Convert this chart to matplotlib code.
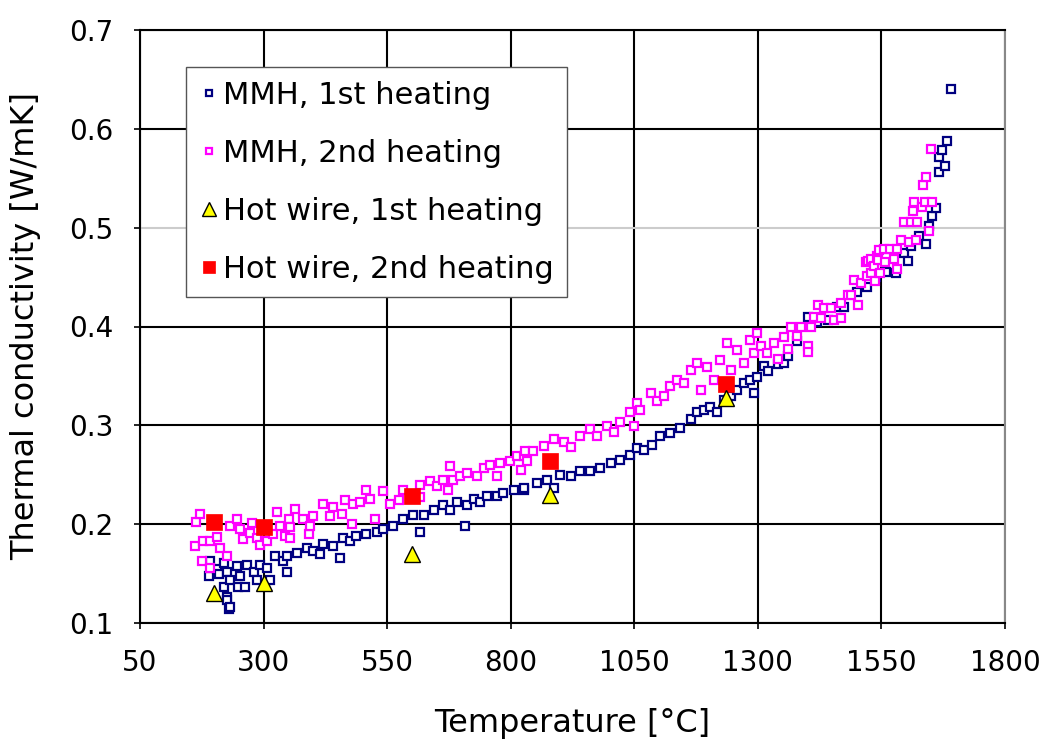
import matplotlib
matplotlib.use("Agg")
import matplotlib.pyplot as plt
from matplotlib.ticker import FixedLocator, FormatStrFormatter

plt.rcParams['font.family'] = ['DejaVu Sans']

# ---------------- data ----------------
mmh1_T = [189, 192, 205, 210, 219, 219, 225, 225, 226, 230, 232, 232, 246, 249, 253, 263,
          266, 280, 286, 293, 307, 313, 323, 340, 347, 347, 367, 387, 401, 414, 421, 441,
          455, 461, 475, 488, 508, 529, 542, 562, 582, 603, 617, 624, 644, 664, 677, 691,
          708, 711, 725, 738, 752, 772, 785, 806, 826, 826, 853, 873, 887, 900, 921, 941,
          961, 981, 1002, 1022, 1042, 1056, 1070, 1085, 1103, 1123, 1143, 1164, 1177, 1191,
          1204, 1218, 1231, 1245, 1258, 1272, 1285, 1292, 1299, 1313, 1320, 1340, 1353,
          1360, 1380, 1401, 1420, 1441, 1460, 1475, 1500, 1520, 1540, 1560, 1579, 1596,
          1603, 1609, 1626, 1640, 1646, 1653, 1660, 1666, 1667, 1673, 1679, 1682, 1690]
mmh1_k = [0.148, 0.163, 0.155, 0.150, 0.161, 0.136, 0.152, 0.126, 0.123, 0.114, 0.144, 0.116,
          0.158, 0.136, 0.148, 0.136, 0.159, 0.152, 0.144, 0.159, 0.156, 0.144, 0.168, 0.163,
          0.152, 0.168, 0.171, 0.176, 0.173, 0.170, 0.180, 0.178, 0.166, 0.186, 0.183, 0.188,
          0.190, 0.192, 0.195, 0.198, 0.205, 0.209, 0.192, 0.209, 0.214, 0.219, 0.214, 0.222,
          0.198, 0.219, 0.225, 0.222, 0.229, 0.229, 0.232, 0.235, 0.235, 0.237, 0.242, 0.245,
          0.237, 0.250, 0.249, 0.254, 0.254, 0.257, 0.262, 0.265, 0.270, 0.277, 0.275, 0.280,
          0.289, 0.292, 0.297, 0.306, 0.313, 0.316, 0.319, 0.313, 0.326, 0.330, 0.336, 0.343,
          0.346, 0.333, 0.349, 0.360, 0.355, 0.362, 0.363, 0.370, 0.385, 0.410, 0.405, 0.407,
          0.420, 0.420, 0.435, 0.440, 0.450, 0.455, 0.454, 0.474, 0.466, 0.481, 0.492, 0.483,
          0.502, 0.512, 0.520, 0.556, 0.571, 0.579, 0.562, 0.588, 0.640]

mmh2_T = [161, 164, 171, 175, 178, 192, 192, 205, 212, 225, 232, 246, 253, 259, 273, 276,
          286, 293, 307, 320, 327, 334, 344, 351, 354, 354, 364, 380, 391, 394, 400, 421,
          434, 441, 458, 465, 479, 481, 495, 508, 515, 525, 542, 556, 573, 583, 617, 617,
          637, 650, 664, 674, 677, 684, 698, 711, 731, 745, 758, 772, 779, 799, 812, 820,
          826, 829, 833, 846, 867, 887, 907, 921, 941, 961, 975, 995, 1008, 1022, 1042,
          1049, 1056, 1062, 1083, 1096, 1110, 1123, 1137, 1150, 1164, 1177, 1184, 1197,
          1211, 1224, 1238, 1245, 1258, 1272, 1285, 1292, 1299, 1306, 1319, 1333, 1340,
          1353, 1360, 1367, 1380, 1387, 1401, 1401, 1407, 1414, 1421, 1428, 1434, 1448,
          1455, 1468, 1468, 1482, 1488, 1495, 1502, 1509, 1518, 1521, 1522, 1528, 1529,
          1535, 1536, 1541, 1543, 1546, 1548, 1555, 1558, 1568, 1575, 1582, 1582, 1589,
          1595, 1605, 1609, 1614, 1615, 1619, 1622, 1632, 1634, 1638, 1640, 1646, 1651, 1652]
mmh2_k = [0.178, 0.202, 0.210, 0.163, 0.183, 0.183, 0.156, 0.187, 0.176, 0.168, 0.198, 0.205,
          0.195, 0.185, 0.191, 0.201, 0.186, 0.179, 0.183, 0.190, 0.212, 0.198, 0.188, 0.205,
          0.197, 0.186, 0.215, 0.205, 0.190, 0.198, 0.208, 0.220, 0.208, 0.217, 0.210, 0.224,
          0.200, 0.220, 0.222, 0.235, 0.225, 0.205, 0.234, 0.220, 0.224, 0.235, 0.240, 0.227,
          0.244, 0.239, 0.245, 0.235, 0.259, 0.245, 0.249, 0.252, 0.249, 0.257, 0.260, 0.249,
          0.262, 0.264, 0.269, 0.255, 0.269, 0.274, 0.264, 0.274, 0.279, 0.286, 0.283, 0.278,
          0.289, 0.296, 0.289, 0.299, 0.293, 0.303, 0.313, 0.299, 0.323, 0.316, 0.333, 0.325,
          0.330, 0.340, 0.346, 0.343, 0.356, 0.363, 0.336, 0.359, 0.346, 0.366, 0.383, 0.356,
          0.376, 0.363, 0.386, 0.373, 0.393, 0.380, 0.373, 0.383, 0.367, 0.389, 0.377, 0.399,
          0.390, 0.399, 0.380, 0.374, 0.400, 0.410, 0.422, 0.409, 0.419, 0.419, 0.407, 0.409,
          0.424, 0.432, 0.432, 0.447, 0.422, 0.444, 0.465, 0.451, 0.466, 0.468, 0.454, 0.461,
          0.446, 0.471, 0.467, 0.477, 0.454, 0.478, 0.465, 0.478, 0.468, 0.478, 0.458, 0.488,
          0.506, 0.486, 0.506, 0.517, 0.526, 0.488, 0.506, 0.521, 0.543, 0.526, 0.551, 0.497,
          0.580, 0.526]

hw_T = [200, 300, 600, 880, 1235]
hw1_k = [0.130, 0.140, 0.170, 0.230, 0.328]
hw2_k = [0.202, 0.197, 0.228, 0.264, 0.342]

x_ticks = [50, 300, 550, 800, 1050, 1300, 1550, 1800]
y_ticks = [0.1, 0.2, 0.3, 0.4, 0.5, 0.6, 0.7]

# ---------------- figure ----------------
fig = plt.figure(figsize=(10.41, 7.49), dpi=100)
ax = fig.add_axes([140 / 1041, 1 - 623 / 749, 865 / 1041, 593 / 749])

sq_ms = 6.0
ax.plot(mmh1_T, mmh1_k, linestyle='none', marker='s', ms=sq_ms, mfc='white',
        mec='#000080', mew=1.6, label='MMH, 1st heating', zorder=3)
ax.plot(mmh2_T, mmh2_k, linestyle='none', marker='s', ms=sq_ms, mfc='white',
        mec='#FF00FF', mew=1.6, label='MMH, 2nd heating', zorder=4)
ax.plot(hw_T, hw1_k, linestyle='none', marker='^', ms=12, mfc='#FFFF00',
        mec='black', mew=1.0, label='Hot wire, 1st heating', zorder=6)
ax.plot(hw_T, hw2_k, linestyle='none', marker='s', ms=11, mfc='#FF0000',
        mec='#FF0000', mew=0.5, label='Hot wire, 2nd heating', zorder=5)

ax.set_xlim(50, 1800)
ax.set_ylim(0.1, 0.7)
ax.xaxis.set_major_locator(FixedLocator(x_ticks))
ax.yaxis.set_major_locator(FixedLocator(y_ticks))
ax.yaxis.set_major_formatter(FormatStrFormatter('%.1f'))

for xv in x_ticks:
    ax.axvline(xv, color='black', lw=1.5, zorder=1)
for yv in y_ticks:
    c = '#cccccc' if abs(yv - 0.5) < 1e-9 else 'black'
    ax.axhline(yv, color=c, lw=1.5, zorder=1)

for s in ax.spines.values():
    s.set_color('black')
    s.set_linewidth(1.5)
ax.spines['right'].set_color('#888888')

ax.tick_params(axis='both', direction='out', length=4, width=1.2, labelsize=20, pad=15)
ax.set_xlabel('Temperature [°C]', fontsize=23, labelpad=22)
ax.set_ylabel('Thermal conductivity [W/mK]', fontsize=23, labelpad=20)

leg = ax.legend(loc='upper left', bbox_to_anchor=(0.053, 0.938), fontsize=22,
                frameon=True, fancybox=False, framealpha=1, edgecolor='#555555',
                handletextpad=0.15, borderpad=0.45, labelspacing=0.95, handlelength=0.6,
                markerscale=1.0, borderaxespad=0)
leg.get_frame().set_linewidth(1.0)
handles = leg.legend_handles
handles[0].set_markersize(4.5)
handles[1].set_markersize(4.5)
handles[2].set_markersize(10)
handles[3].set_markersize(9)
leg.set_zorder(10)

fig.savefig('out.png', dpi=100)
